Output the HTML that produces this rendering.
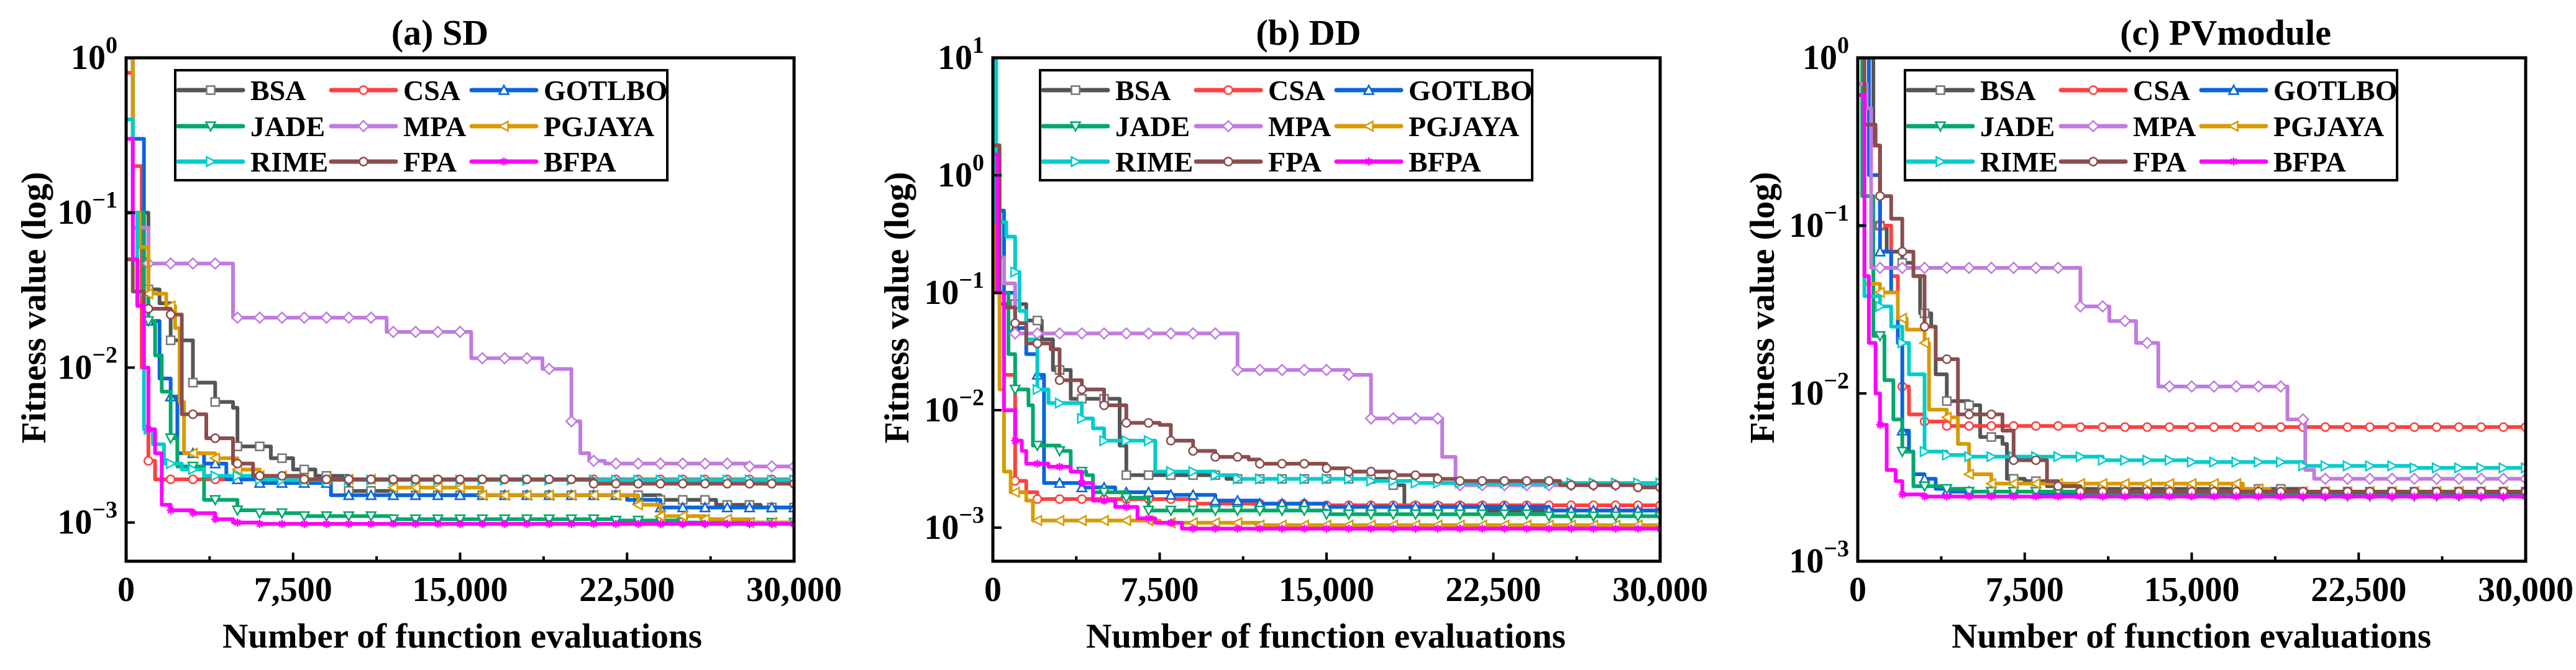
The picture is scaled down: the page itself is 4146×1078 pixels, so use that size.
<!DOCTYPE html>
<html><head><meta charset="utf-8">
<style>
html,body{margin:0;padding:0;background:#fff;}
svg{display:block;}
text{font-family:"Liberation Serif","Times New Roman",serif;font-weight:bold;fill:#000;}
</style></head>
<body>
<svg id="fig" width="4146" height="1078" viewBox="0 0 4146 1078" xmlns="http://www.w3.org/2000/svg"></svg>
<script>
// ---- data: [evaluations, fitness] breakpoints of step curves ----
const seriesNames = ["BSA","CSA","GOTLBO","JADE","MPA","PGJAYA","RIME","FPA","BFPA"];
const seriesColors = ["#555555","#ff4040","#0a64dc","#00a86b","#c07be0","#d99a00","#00cccc","#8b4d4d","#ff00ff"];
const xTickLabels = ["0","7,500","15,000","22,500","30,000"];
const xTickValues = [0,7500,15000,22500,30000];

const sdBSA=[[0,0.1],[500,0.1],[1000,0.032],[1500,0.026],[2000,0.015],[3000,0.008],[4000,0.006],[4800,0.0055],[5000,0.0031],[6500,0.0026],[7500,0.0022],[8500,0.002],[10000,0.0016],[12000,0.0015],[22000,0.0015],[24000,0.0014],[26500,0.0013],[28500,0.00125]];
const sdCSA=[[0,0.8],[300,0.2],[700,0.01],[1000,0.0025],[1300,0.0019]];
const sdGOTLBO=[[0,1],[300,0.3],[800,0.05],[1000,0.02],[1500,0.0085],[2000,0.0065],[2300,0.0028],[3500,0.0024],[4500,0.0019],[6000,0.0018],[9200,0.0015],[22500,0.0014],[24000,0.00125]];
const sdJADE=[[0,1],[300,0.1],[800,0.03],[1000,0.02],[1300,0.012],[1600,0.007],[2000,0.0035],[2300,0.0023],[3500,0.0014],[5000,0.0012],[6000,0.00115],[8000,0.0011],[12000,0.00105],[22000,0.00103],[25000,0.001]];
const sdMPA=[[0,0.3],[300,0.08],[1000,0.047],[4800,0.021],[11700,0.017],[15500,0.0115],[18700,0.0098],[20000,0.0045],[20400,0.0028],[20800,0.0025],[21500,0.0024],[28000,0.0023]];
const sdPGJAYA=[[0,1],[300,0.1],[600,0.06],[1000,0.03],[1800,0.025],[2200,0.018],[2400,0.006],[2600,0.0028],[4000,0.0026],[5000,0.0022],[6000,0.002],[8000,0.0019],[12000,0.00168],[16000,0.0015],[23000,0.0013],[24000,0.0011],[26000,0.00105],[28000,0.001]];
const sdRIME=[[0,0.4],[300,0.1],[500,0.03],[800,0.004],[1200,0.0032],[1700,0.0024],[2500,0.0022],[3500,0.002],[6000,0.0019],[7000,0.00188]];
const sdFPA=[[0,0.05],[300,0.031],[800,0.024],[2000,0.022],[2500,0.005],[3600,0.0035],[4800,0.0024],[5700,0.002],[8000,0.0019],[21000,0.00178]];
const sdBFPA=[[0,0.3],[300,0.05],[500,0.025],[800,0.01],[1000,0.004],[1300,0.0028],[1600,0.0013],[2000,0.0012],[3000,0.00115],[4000,0.00105],[4800,0.001],[6000,0.00098]];

const ddBSA=[[0,1.5],[300,0.08],[1500,0.058],[2200,0.04],[2700,0.022],[3500,0.0125],[5700,0.005],[6000,0.0028],[10500,0.0026],[18000,0.0023],[18500,0.0015],[22000,0.0014]];
const ddCSA=[[0,1],[300,0.1],[500,0.02],[1000,0.0025],[1500,0.002],[2000,0.00175],[9000,0.0016],[15000,0.00155]];
const ddGOTLBO=[[0,0.5],[500,0.1],[1000,0.05],[1500,0.03],[2000,0.02],[2300,0.0024],[4000,0.0022],[5500,0.002],[8000,0.0019],[10000,0.0017],[12000,0.0016],[15000,0.0015],[25000,0.0014]];
const ddJADE=[[0,0.5],[300,0.1],[700,0.03],[1000,0.015],[1600,0.011],[1800,0.005],[3000,0.0045],[3500,0.003],[4200,0.0028],[4500,0.002],[6000,0.0018],[7000,0.0014],[15000,0.0013],[25000,0.00125]];
const ddMPA=[[0,0.2],[500,0.12],[1000,0.045],[11000,0.022],[16000,0.02],[17000,0.0085],[20200,0.004],[20800,0.0023]];
const ddPGJAYA=[[0,10],[100,0.1],[300,0.015],[500,0.003],[800,0.002],[1500,0.0017],[1800,0.00115],[7500,0.0011],[12000,0.00105]];
const ddRIME=[[0,10],[150,0.4],[600,0.3],[1000,0.15],[1200,0.07],[1500,0.04],[2000,0.015],[2500,0.0115],[4000,0.0085],[4500,0.007],[5000,0.0055],[7300,0.003],[10000,0.0028],[11000,0.0026],[17000,0.0025],[19000,0.0024]];
const ddFPA=[[0,1.8],[300,0.1],[500,0.075],[1000,0.055],[1500,0.037],[2600,0.033],[3000,0.018],[4000,0.015],[5000,0.011],[6000,0.0078],[7500,0.0075],[8000,0.0055],[9000,0.0045],[10000,0.004],[11500,0.0038],[12000,0.0035],[15000,0.0032],[16000,0.003],[18000,0.0028],[20000,0.0026],[21000,0.0025],[25500,0.0023],[29000,0.0022]];
const ddBFPA=[[0,1.5],[200,0.1],[500,0.01],[1000,0.0055],[1300,0.0045],[1500,0.0035],[2500,0.0033],[3500,0.003],[4000,0.0024],[4500,0.0017],[5500,0.0015],[6500,0.0012],[7300,0.0011],[8500,0.00098]];

const pvBSA=[[0,1],[700,0.3],[1000,0.1],[1300,0.07],[2000,0.06],[2500,0.05],[2800,0.03],[3300,0.025],[3500,0.013],[4000,0.009],[5000,0.0085],[5500,0.0055],[6500,0.005],[6700,0.0031],[7500,0.003],[8500,0.0028],[10000,0.0027],[20000,0.0026]];
const pvCSA=[[0,1],[500,0.3],[1000,0.1],[1500,0.05],[1800,0.02],[2000,0.011],[2300,0.0075],[3000,0.0068],[4000,0.0064],[10000,0.0063]];
const pvGOTLBO=[[0,1],[500,0.2],[1000,0.07],[1500,0.04],[1800,0.02],[2000,0.006],[2300,0.0045],[2500,0.0033],[3000,0.0031],[3500,0.0027],[4000,0.0026],[8000,0.00252]];
const pvJADE=[[0,1],[200,0.15],[700,0.022],[1200,0.012],[1600,0.007],[2000,0.0045],[2500,0.0028],[4000,0.0027],[5000,0.0026],[10000,0.0025],[20000,0.00245]];
const pvMPA=[[0,0.7],[400,0.5],[600,0.056],[10000,0.033],[11300,0.027],[12500,0.02],[13500,0.011],[19300,0.007],[20100,0.0035],[20500,0.0031]];
const pvPGJAYA=[[0,0.1],[300,0.045],[1000,0.04],[1800,0.028],[2200,0.024],[3000,0.02],[3200,0.008],[4000,0.0072],[4500,0.005],[5000,0.0033],[6000,0.0029],[17300,0.0027],[18500,0.0026]];
const pvRIME=[[0,0.1],[300,0.038],[1000,0.033],[1500,0.025],[2000,0.02],[2300,0.013],[3000,0.0045],[4000,0.0043],[5000,0.0042],[11000,0.004],[15000,0.0039],[20000,0.0037],[25000,0.0036]];
const pvFPA=[[0,1],[300,0.4],[800,0.3],[1000,0.15],[1500,0.11],[2000,0.07],[2500,0.05],[3000,0.025],[3500,0.016],[4500,0.0075],[6000,0.0075],[6500,0.006],[7000,0.004],[8500,0.003],[9000,0.0028],[10000,0.0026]];
const pvBFPA=[[0,0.6],[300,0.05],[500,0.02],[800,0.01],[1000,0.0065],[1300,0.0035],[1700,0.003],[2000,0.0025],[3000,0.00243]];

const panels=[
 {key:"sd",title:"(a) SD",series:[sdBSA,sdCSA,sdGOTLBO,sdJADE,sdMPA,sdPGJAYA,sdRIME,sdFPA,sdBFPA],
  L:203,R:1278,T:93,B:903,logTop:0,logBot:-3.25,yExps:[0,-1,-2,-3],titleX:708,xlabX:744,ylabX:54,legX:282},
 {key:"dd",title:"(b) DD",series:[ddBSA,ddCSA,ddGOTLBO,ddJADE,ddMPA,ddPGJAYA,ddRIME,ddFPA,ddBFPA],
  L:1598,R:2672,T:93,B:903,logTop:1,logBot:-3.286,yExps:[1,0,-1,-2,-3],titleX:2106,xlabX:2134,ylabX:1443,legX:1674},
 {key:"pv",title:"(c) PVmodule",series:[pvBSA,pvCSA,pvGOTLBO,pvJADE,pvMPA,pvPGJAYA,pvRIME,pvFPA,pvBFPA],
  L:2990,R:4065,T:93,B:903,logTop:0,logBot:-3,yExps:[0,-1,-2,-3],titleX:3582,xlabX:3527,ylabX:2836,legX:3066}
];

const NS="http://www.w3.org/2000/svg";
const svg=document.getElementById("fig");
function mk(tag,attrs,parent){const e=document.createElementNS(NS,tag);for(const k in attrs)e.setAttribute(k,attrs[k]);(parent||svg).appendChild(e);return e;}

function markerShape(i,x,y,color,parent){
  const s=6.5, sw=2.5;
  let e;
  if(i===0) e=mk("rect",{x:x-s,y:y-s,width:2*s,height:2*s,fill:"#fff",stroke:"#777","stroke-width":sw},parent);
  else if(i===1||i===7) e=mk("circle",{cx:x,cy:y,r:s,fill:"#fff",stroke:color,"stroke-width":sw},parent);
  else if(i===2) e=mk("polygon",{points:`${x},${y-s-1} ${x+s+1},${y+s} ${x-s-1},${y+s}`,fill:"#fff",stroke:color,"stroke-width":sw},parent);
  else if(i===3) e=mk("polygon",{points:`${x},${y+s+1} ${x+s+1},${y-s} ${x-s-1},${y-s}`,fill:"#fff",stroke:color,"stroke-width":sw},parent);
  else if(i===4) e=mk("polygon",{points:`${x},${y-s-2} ${x+s+2},${y} ${x},${y+s+2} ${x-s-2},${y}`,fill:"#fff",stroke:color,"stroke-width":sw},parent);
  else if(i===5) e=mk("polygon",{points:`${x-s-1},${y} ${x+s},${y-s-1} ${x+s},${y+s+1}`,fill:"#fff",stroke:color,"stroke-width":sw},parent);
  else if(i===6) e=mk("polygon",{points:`${x+s+1},${y} ${x-s},${y-s-1} ${x-s},${y+s+1}`,fill:"#fff",stroke:color,"stroke-width":sw},parent);
  else {e=mk("path",{d:`M${x-s},${y}H${x+s}M${x},${y-s}V${y+s}M${x-s*0.7},${y-s*0.7}L${x+s*0.7},${y+s*0.7}M${x-s*0.7},${y+s*0.7}L${x+s*0.7},${y-s*0.7}`,fill:"none",stroke:color,"stroke-width":2.5},parent);}
  
  
  return e;
}

function stepVal(data,x){let v=data[0][1];for(const p of data){if(p[0]<=x)v=p[1];else break;}return v;}

panels.forEach(p=>{
  const g=mk("g",{});
  
  
  const xs=v=>p.L+(v/30000)*(p.R-p.L);
  const ys=v=>p.T+(p.logTop-Math.log10(v))/(p.logTop-p.logBot)*(p.B-p.T);
  const ysLog=e=>p.T+(p.logTop-e)/(p.logTop-p.logBot)*(p.B-p.T);
  const clip=mk("clipPath",{id:"clip-"+p.key},g);
  mk("rect",{x:p.L,y:p.T,width:p.R-p.L,height:p.B-p.T},clip);
  const sg=mk("g",{"clip-path":`url(#clip-${p.key})`},g);
  
  
  p.series.forEach((data,i)=>{
    let d=`M${xs(data[0][0])},${ys(data[0][1])}`;
    for(let k=1;k<data.length;k++){d+=`H${xs(data[k][0])}V${ys(data[k][1])}`;}
    d+=`H${xs(30000)}`;
    const path=mk("path",{d:d,fill:"none",stroke:seriesColors[i],"stroke-width":6,"stroke-linejoin":"round"},sg);
    
    
    for(let m=1000;m<=30000;m+=1000){markerShape(i,xs(m),ys(stepVal(data,m)),seriesColors[i],sg);}
  });
  const fr=mk("rect",{x:p.L,y:p.T,width:p.R-p.L,height:p.B-p.T,fill:"none",stroke:"#000","stroke-width":5},g);
  
  
  for(let v=0;v<=30000;v+=3750){
    const major=(v%7500===0);
    const t=mk("line",{x1:xs(v),x2:xs(v),y1:p.B,y2:p.B-(major?14:8),stroke:"#000","stroke-width":4},g);
    
    
  }
  xTickLabels.forEach((lab,k)=>{
    const t=mk("text",{x:xs(xTickValues[k]),y:967,"font-size":56,"text-anchor":"middle"},g);
    t.textContent=lab;
    
    
  });
  p.yExps.forEach(e=>{
    const y=ysLog(e);
    const t=mk("line",{x1:p.L,x2:p.L+14,y1:y,y2:y,stroke:"#000","stroke-width":4},g);
    
    
    const lab=mk("text",{x:p.L-14,y:y+18,"font-size":56,"text-anchor":"end"},g);
    
    
    const b=mk("tspan",{},lab);b.textContent="10";
    const s=mk("tspan",{"font-size":38,dy:-26},lab);s.textContent=(e<0?"\u2212"+(-e):String(e));
  });
  const tt=mk("text",{x:p.titleX,y:72,"font-size":58,"text-anchor":"middle"},g);
  tt.textContent=p.title;
  
  
  const xl=mk("text",{x:p.xlabX,y:1042,"font-size":56,"text-anchor":"middle",textLength:772,lengthAdjust:"spacingAndGlyphs"},g);
  xl.textContent="Number of function evaluations";
  
  
  const yl=mk("text",{x:0,y:0,"font-size":56,"text-anchor":"middle",textLength:437,lengthAdjust:"spacingAndGlyphs",transform:`translate(${p.ylabX+19},495) rotate(-90)`},g);
  yl.textContent="Fitness value (log)";
  
  
  const lg=mk("g",{},g);
  
  
  const lb=mk("rect",{x:p.legX,y:113,width:792,height:177,fill:"#fff",stroke:"#000","stroke-width":4},lg);
  
  
  const colOff=[5,251,477], rowY=[145,203,260];
  seriesNames.forEach((nm,i)=>{
    const c=i%3,r=Math.floor(i/3);
    const x0=p.legX+colOff[c], y0=rowY[r];
    const en=mk("g",{},lg);
    
    
    mk("line",{x1:x0,x2:x0+104,y1:y0,y2:y0,stroke:seriesColors[i],"stroke-width":7,"stroke-linecap":"round"},en);
    markerShape(i,x0+52,y0,seriesColors[i],en);
    const tx=mk("text",{x:x0+116,y:y0+16,"font-size":46},en);
    tx.textContent=nm;
  });
});
</script>
</body></html>
